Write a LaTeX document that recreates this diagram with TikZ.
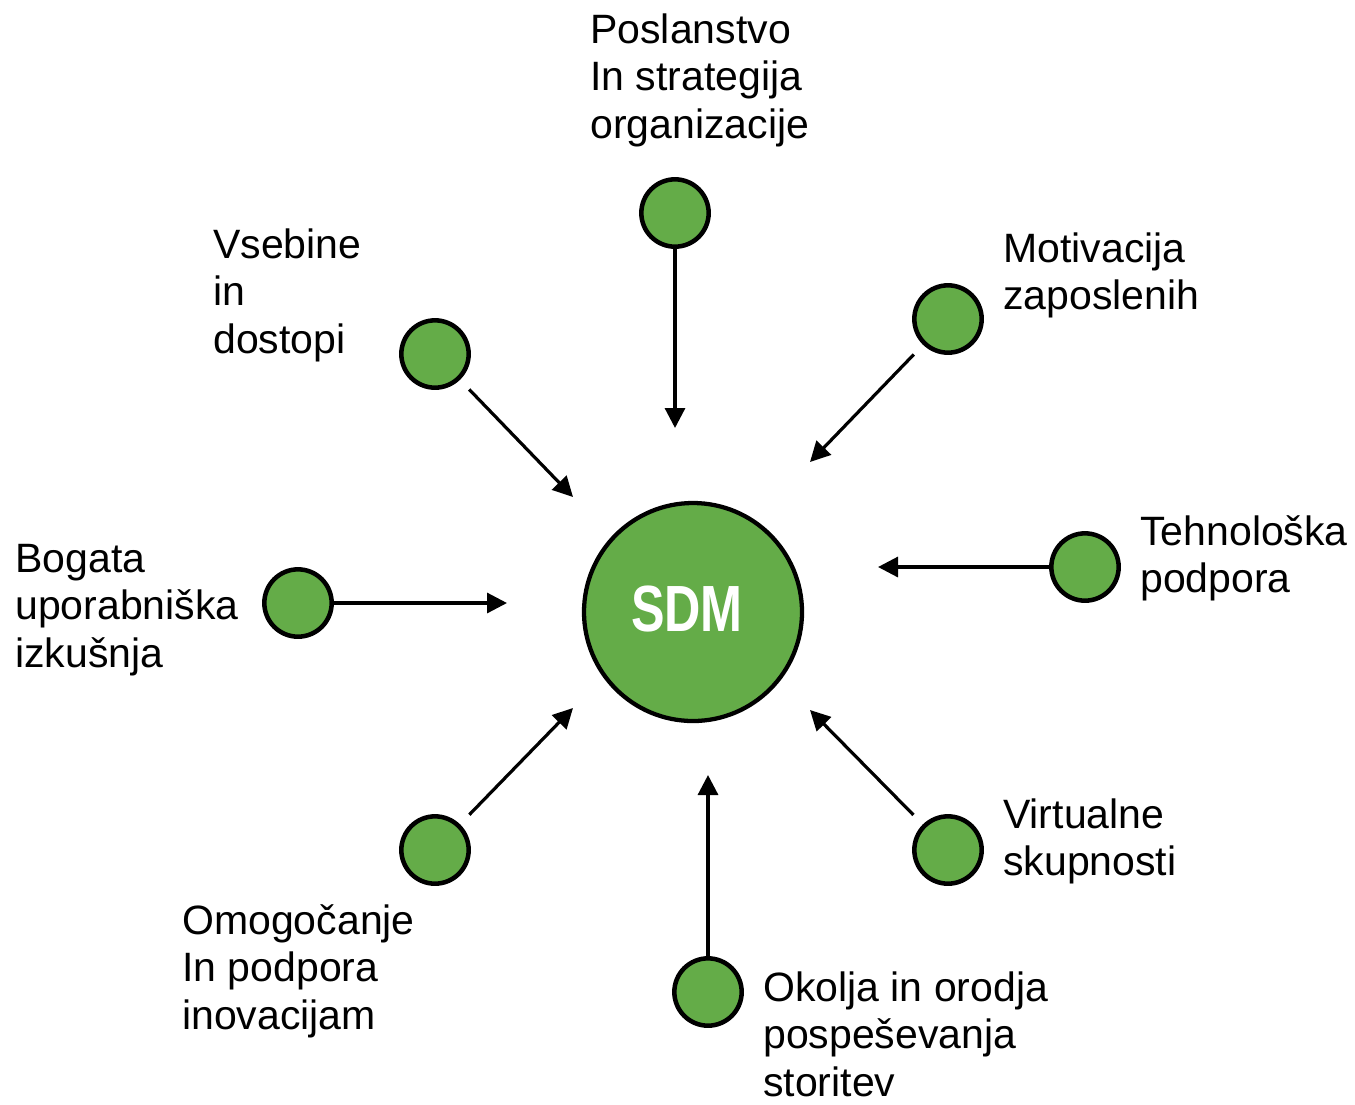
\documentclass[tikz,border=0pt]{standalone}
\usepackage{fontspec}
\usepackage{graphicx}
\setmainfont{Liberation Sans}
\usetikzlibrary{arrows.meta}
\definecolor{sdmgreen}{RGB}{100,172,72}
\newcommand{\lbl}[1]{\vtop{\baselineskip=35.8pt\relax#1}}
\begin{document}
\begin{tikzpicture}[x=0.75pt,y=-0.75pt,
  dot/.style={circle,draw=black,fill=sdmgreen,line width=3.4pt,minimum size=50.5pt,inner sep=0pt},
  hub/.style={circle,draw=black,fill=sdmgreen,line width=3.2pt,minimum size=163.5pt,inner sep=0pt},
  arr/.style={line width=2.4pt,-{Triangle[length=15pt,width=15pt]}},
  gap/.style={shorten <=10pt},
  lab/.style={anchor=base west,inner sep=0pt,font=\fontsize{30.75}{36}\selectfont}]
\useasboundingbox (0,0) rectangle (1355,1104);
% hub
\node[hub] (sdm) at (693,612) {};
\node[text=white,font=\fontsize{49}{50}\selectfont\bfseries] (sdmtext) at (687,609) {\scalebox{0.77}[1]{SDM}};
% satellites
\node[dot] (top) at (675,213) {};
\node[dot] (mot) at (948,319) {};
\node[dot] (teh) at (1085,567) {};
\node[dot] (vir) at (948,850) {};
\node[dot] (oko) at (708,992) {};
\node[dot] (omo) at (435,850) {};
\node[dot] (bog) at (298,603) {};
\node[dot] (vse) at (435,354) {};
% arrow tips
\coordinate (tTop) at (675,428);
\coordinate (tMot) at (810,462);
\coordinate (tTeh) at (878,567);
\coordinate (tVir) at (810,710);
\coordinate (tOko) at (708,775);
\coordinate (tOmo) at (573,708);
\coordinate (tBog) at (507,603);
\coordinate (tVse) at (573,497);
\draw[arr] (top) -- (tTop);
\draw[arr,gap] (mot) -- (tMot);
\draw[arr] (teh) -- (tTeh);
\draw[arr,gap] (vir) -- (tVir);
\draw[arr] (oko) -- (tOko);
\draw[arr,gap] (omo) -- (tOmo);
\draw[arr] (bog) -- (tBog);
\draw[arr,gap] (vse) -- (tVse);
% labels
\node[lab] (lTop) at (590,43) {\lbl{\hbox{Poslanstvo}\hbox{In strategija}\hbox{organizacije}}};
\node[lab] (lVse) at (213,258) {\lbl{\hbox{Vsebine}\hbox{in}\hbox{dostopi}}};
\node[lab] (lMot) at (1003,262) {\lbl{\hbox{Motivacija}\hbox{zaposlenih}}};
\node[lab] (lBog) at (15,572) {\lbl{\hbox{Bogata}\hbox{uporabniška}\hbox{izkušnja}}};
\node[lab] (lTeh) at (1140,545) {\lbl{\hbox{Tehnološka}\hbox{podpora}}};
\node[lab] (lVir) at (1003,828) {\lbl{\hbox{Virtualne}\hbox{skupnosti}}};
\node[lab] (lOmo) at (182,934) {\lbl{\hbox{Omogočanje}\hbox{In podpora}\hbox{inovacijam}}};
\node[lab] (lOko) at (763,1001) {\lbl{\hbox{Okolja in orodja}\hbox{pospeševanja}\hbox{storitev}}};
\end{tikzpicture}
\end{document}
